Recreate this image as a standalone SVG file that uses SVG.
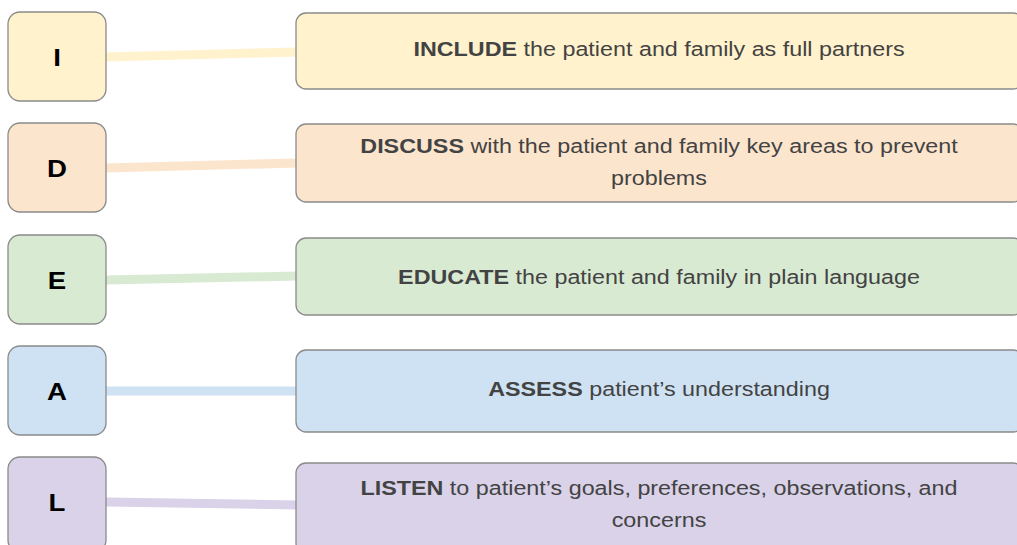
<svg xmlns="http://www.w3.org/2000/svg" width="1017" height="545" viewBox="0 0 1017 545">
<style>
.box{stroke:#8a8a8a;stroke-width:1.3}
.lt{font-family:"Liberation Sans",Arial,sans-serif;font-weight:bold;font-size:24px;fill:#000;text-anchor:middle}
.rt{font-family:"Liberation Sans",Arial,sans-serif;font-size:20px;fill:#434343;text-anchor:middle}
.rt tspan.b{font-weight:bold}
.c{stroke-width:9;fill:none}
.y{fill:#fff2cc}.o{fill:#fce5cd}.g{fill:#d9ead3}.bl{fill:#cfe2f3}.p{fill:#d9d2e9}
</style>
<rect width="1017" height="545" fill="#fff"/>
<g id="connectors">
<line class="c" x1="106" y1="57" x2="297" y2="52" stroke="#fff2cc"/>
<line class="c" x1="106" y1="168" x2="297" y2="163" stroke="#fce5cd"/>
<line class="c" x1="106" y1="280" x2="297" y2="276" stroke="#d9ead3"/>
<line class="c" x1="106" y1="391" x2="297" y2="391" stroke="#cfe2f3"/>
<line class="c" x1="106" y1="502" x2="297" y2="505" stroke="#d9d2e9"/>
</g>
<g id="node-I"><rect class="box y" x="8" y="12" width="98" height="89" rx="12"/><text class="lt" transform="translate(57,66) scale(1.15,1)">I</text></g>
<g id="node-D"><rect class="box o" x="8" y="123" width="98" height="89" rx="12"/><text class="lt" transform="translate(57,177) scale(1.15,1)">D</text></g>
<g id="node-E"><rect class="box g" x="8" y="235" width="98" height="89" rx="12"/><text class="lt" transform="translate(57,289) scale(1.15,1)">E</text></g>
<g id="node-A"><rect class="box bl" x="8" y="346" width="98" height="89" rx="12"/><text class="lt" transform="translate(57,400) scale(1.15,1)">A</text></g>
<g id="node-L"><rect class="box p" x="8" y="457" width="98" height="95" rx="12"/><text class="lt" transform="translate(57,511) scale(1.15,1)">L</text></g>
<g id="node-include"><rect class="box y" x="296" y="13" width="727" height="76" rx="10"/><text class="rt" transform="translate(659,56) scale(1.166,1)"><tspan class="b">INCLUDE</tspan> the patient and family as full partners</text></g>
<g id="node-discuss"><rect class="box o" x="296" y="124" width="727" height="78" rx="10"/><text class="rt" transform="translate(659,153) scale(1.166,1)"><tspan class="b">DISCUSS</tspan> with the patient and family key areas to prevent</text><text class="rt" transform="translate(659,185) scale(1.166,1)">problems</text></g>
<g id="node-educate"><rect class="box g" x="296" y="238" width="727" height="77" rx="10"/><text class="rt" transform="translate(659,284) scale(1.166,1)"><tspan class="b">EDUCATE</tspan> the patient and family in plain language</text></g>
<g id="node-assess"><rect class="box bl" x="296" y="350" width="727" height="82" rx="10"/><text class="rt" transform="translate(659,396) scale(1.166,1)"><tspan class="b">ASSESS</tspan> patient’s understanding</text></g>
<g id="node-listen"><rect class="box p" x="296" y="463" width="727" height="90" rx="10"/><text class="rt" transform="translate(659,495) scale(1.166,1)"><tspan class="b">LISTEN</tspan> to patient’s goals, preferences, observations, and</text><text class="rt" transform="translate(659,527) scale(1.166,1)">concerns</text></g>
</svg>
